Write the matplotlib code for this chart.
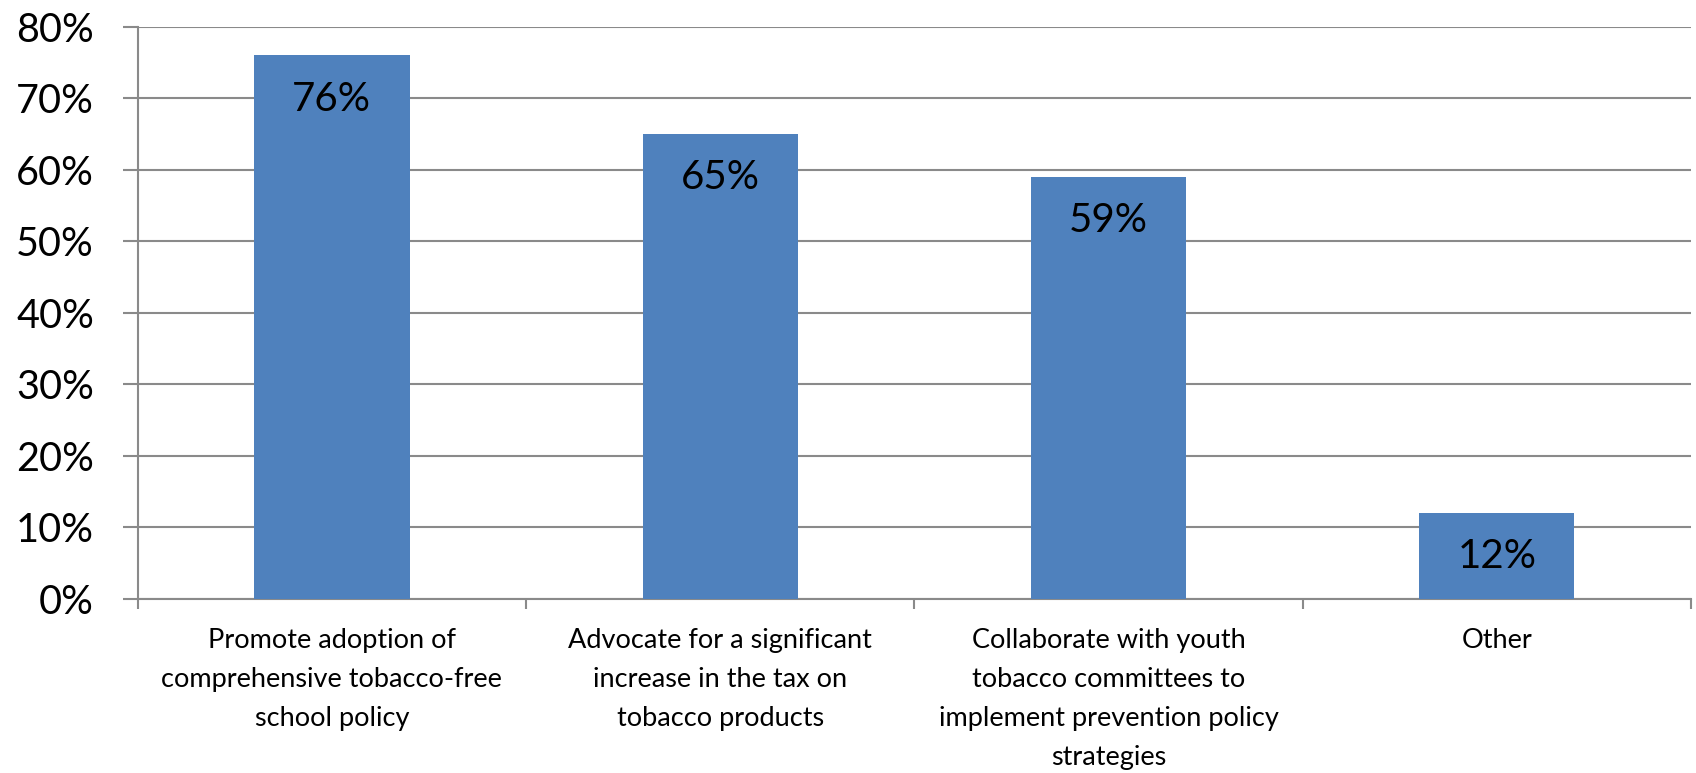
import matplotlib
matplotlib.use("Agg")
import matplotlib.pyplot as plt
from matplotlib.ticker import FixedLocator, PercentFormatter

categories = [
    "Promote adoption of\ncomprehensive tobacco-free\nschool policy",
    "Advocate for a significant\nincrease in the tax on\ntobacco products",
    "Collaborate with youth\ntobacco committees to\nimplement prevention policy\nstrategies",
    "Other",
]
values = [76, 65, 59, 12]
y_ticks = [0, 10, 20, 30, 40, 50, 60, 70, 80]

BAR = "#4F81BD"
GRID = "#8a8a8a"

plt.rcParams["font.family"] = ["Lato", "DejaVu Sans"]

fig = plt.figure(figsize=(16.96, 7.73), dpi=100)
ax = fig.add_axes([0.0812, 0.2251, 0.9158, 0.7404])

x = range(len(categories))
bars = ax.bar(x, values, width=0.4, color=BAR, zorder=3)

# value labels sit just inside the top of each bar
for rect, v in zip(bars, values):
    ax.annotate(f"{v}%", (rect.get_x() + rect.get_width() / 2, v),
                xytext=(0, -31.5), textcoords="offset points",
                ha="center", va="center", fontsize=29, color="black", zorder=4)

ax.set_xlim(-0.5, len(categories) - 0.5)
ax.set_ylim(0, 80)
ax.yaxis.set_major_locator(FixedLocator(y_ticks))
ax.yaxis.set_major_formatter(PercentFormatter(decimals=0))
ax.grid(axis="y", color=GRID, linewidth=1.5, zorder=0)

ax.set_xticks(list(x))
ax.set_xticklabels(categories, fontsize=19.5, linespacing=1.7, va="top")
ax.set_xticks([i - 0.5 for i in range(len(categories) + 1)], minor=True)
ax.tick_params(axis="x", which="major", length=0, pad=21)
ax.tick_params(axis="x", which="minor", length=7, width=1.5, color=GRID)
ax.tick_params(axis="y", length=10.5, width=1.5, color=GRID, pad=21, labelsize=28.5)

for side in ("top", "right"):
    ax.spines[side].set_visible(False)
for side in ("left", "bottom"):
    ax.spines[side].set_color(GRID)
    ax.spines[side].set_linewidth(1.5)

fig.savefig("out.png", dpi=100)
